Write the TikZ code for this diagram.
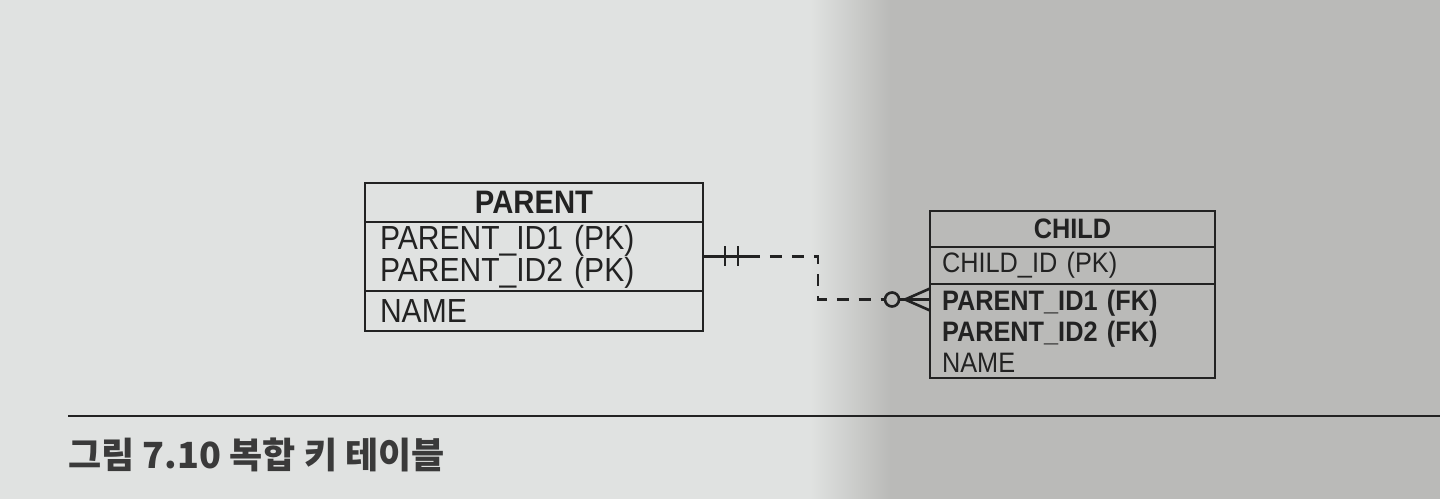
\documentclass[tikz,border=0pt]{standalone}
\usepackage{fontspec}
\usetikzlibrary{positioning}
\newfontfamily\erdfont[FakeStretch=0.9]{Liberation Sans}
\newfontfamily\capfont{Noto Sans CJK KR}
\definecolor{pageleft}{RGB}{224,226,225}
\definecolor{pageright}{RGB}{186,186,184}
\definecolor{ink}{RGB}{34,34,34}
\definecolor{capink}{RGB}{58,58,58}
\tikzset{entity style/.style={
		draw=ink,
		line width=1.5pt,
		rectangle,
		outer sep=0pt,
		inner ysep=0pt,
		text=ink,
	},
	parent title/.style={
		entity style,
		minimum width=6.76cm,
		minimum height=0.78cm,
		font=\erdfont\bfseries\fontsize{18.5}{20}\selectfont,
	},
	parent rows/.style={
		entity style,
		text width=6.16cm,
		inner xsep=0.3cm,
		align=left,
		font=\erdfont\fontsize{19}{18.2}\selectfont,
	},
	child title/.style={
		entity style,
		minimum width=5.7cm,
		minimum height=0.72cm,
		font=\erdfont\bfseries\fontsize{16}{17.6}\selectfont,
	},
	child rows/.style={
		entity style,
		text width=5.22cm,
		inner xsep=0.24cm,
		align=left,
		font=\erdfont\fontsize{16}{17.6}\selectfont,
	},
	rel line/.style={
		draw=ink,
		line width=1.5pt,
		#1,
	},
	opt circle/.style={
		circle,
		draw=ink,
		line width=1.5pt,
		minimum size=0.28cm,
		inner sep=0pt,
		outer sep=0pt,
	},
	caption style/.style={
		text=capink,
		font=\capfont\bfseries\fontsize{20.5}{24}\selectfont,
		inner sep=0pt,
	}
}

\begin{document}
\begin{tikzpicture}[x=0.02cm,y=-0.02cm]
	% page
	\useasboundingbox (0,0) rectangle (1440,498);
	\fill[pageleft] (-10,-10) rectangle (815,510);
	\fill[pageright] (885,-10) rectangle (1450,510);
	\shade[left color=pageleft, right color=pageright] (810,-10) rectangle (890,510);
	
	% PARENT
	\node[parent title] (ParentTitle) at (534,202.5) {PARENT};
	\node[parent rows, minimum height=1.38cm, below=0pt of ParentTitle] (ParentKeys) {PARENT\_ID1 (PK)\\PARENT\_ID2 (PK)};
	\node[parent rows, minimum height=0.8cm, below=0pt of ParentKeys] (ParentAttr) {NAME};
	
	% CHILD
	\node[child title] (ChildTitle) at (1072.5,229) {CHILD};
	\node[child rows, minimum height=0.74cm, below=0pt of ChildTitle] (ChildKeys) {CHILD\_ID (PK)};
	\node[child rows, minimum height=1.88cm, below=0pt of ChildKeys] (ChildFK) {{\bfseries PARENT\_ID1 (FK)}\\{\bfseries PARENT\_ID2 (FK)}\\NAME};
	
	% relationship
	\coordinate (FKin) at ([yshift=-0.31cm]ChildFK.north west);
	\node[opt circle] (Opt) at ([xshift=-0.76cm]FKin) {};
	\draw[rel line] (ParentKeys.east) -- ++(45,0) coordinate (RelA);
	\foreach \dx in {22,35}
		\draw[rel line] ([shift={(\dx,-10)}]ParentKeys.east) -- ++(0,20);
	\draw[rel line={dash pattern=on 6.8pt off 5.7pt}] (RelA) -- ++(70,0) |- (Opt.west);
	\draw[rel line] (Opt.east) -- (FKin);
	\foreach \dy in {-11,11}
		\draw[rel line] ([xshift=-0.5cm]FKin) -- ([shift={(0,\dy)}]FKin);
	
	% caption
	\draw[ink, line width=1.2pt] (68,416) -- (1440,416);
	\node[caption style, anchor=west] (Caption) at (68,455) {그림 7.10 복합 키 테이블};
\end{tikzpicture}
\end{document}
